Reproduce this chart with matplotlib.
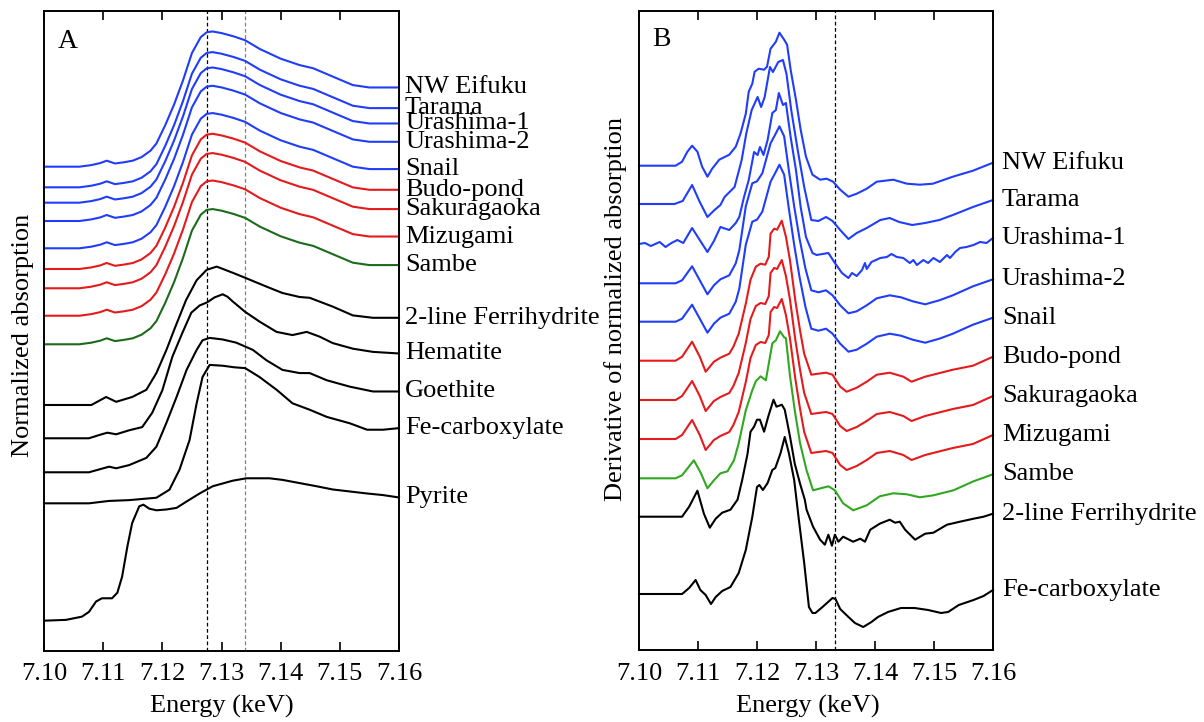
import numpy as np
import matplotlib.pyplot as plt
import matplotlib.transforms as mtransforms

plt.rcParams['font.family'] = ['Liberation Serif', 'DejaVu Serif']
plt.rcParams['font.size'] = 19

BLUE = '#1f3dfa'
RED = '#e41a1c'
GREEN_A = '#1b6b1b'
GREEN_B = '#30a820'

# ---------------- Panel A: normalized XANES (energy keV, normalized absorption) ----------------
e_sample = [7.100, 7.106, 7.108, 7.1095, 7.1106, 7.112, 7.1135, 7.115, 7.1165, 7.118, 7.119,
            7.1205, 7.122, 7.1235, 7.125, 7.1265, 7.1275, 7.1285, 7.130, 7.132, 7.134, 7.1365,
            7.140, 7.1432, 7.1455, 7.149, 7.1522, 7.155, 7.160]
mu_sample = [0.0, 0.0, 0.02, 0.045, 0.075, 0.04, 0.055, 0.075, 0.12, 0.2, 0.29,
             0.52, 0.78, 1.08, 1.42, 1.62, 1.68, 1.69, 1.67, 1.63, 1.58, 1.47,
             1.35, 1.27, 1.23, 1.12, 1.02, 0.99, 0.99]

e_ferri = [7.100, 7.108, 7.1105, 7.1122, 7.1149, 7.1173, 7.119, 7.1207, 7.122, 7.124, 7.1258,
           7.1275, 7.1292, 7.132, 7.134, 7.1376, 7.1403, 7.1432, 7.1449, 7.1488, 7.1522, 7.1556, 7.160]
mu_ferri = [0, 0, 0.10, 0.04, 0.10, 0.19, 0.40, 0.69, 0.94, 1.31, 1.56,
            1.69, 1.73, 1.65, 1.59, 1.48, 1.40, 1.35, 1.34, 1.23, 1.12, 1.09, 1.09]

e_hem = [7.100, 7.1076, 7.1093, 7.1107, 7.1122, 7.1144, 7.1166, 7.1183, 7.120, 7.1217, 7.1234,
         7.1249, 7.1263, 7.1276, 7.1288, 7.1302, 7.131, 7.1319, 7.134, 7.1364, 7.1393, 7.142,
         7.1444, 7.1466, 7.1488, 7.1522, 7.1556, 7.160]
mu_hem = [0, 0, 0.04, 0.07, 0.05, 0.10, 0.14, 0.32, 0.60, 1.02, 1.32,
          1.57, 1.66, 1.70, 1.76, 1.80, 1.77, 1.71, 1.58, 1.46, 1.33, 1.29,
          1.33, 1.27, 1.19, 1.12, 1.08, 1.06]

e_goe = [7.100, 7.1076, 7.111, 7.1122, 7.1144, 7.1173, 7.119, 7.1207, 7.1224, 7.1241, 7.1258,
         7.1268, 7.128, 7.1302, 7.1325, 7.1353, 7.1376, 7.1403, 7.1432, 7.1449, 7.1478, 7.1517,
         7.1556, 7.160]
mu_goe = [0, 0, 0.07, 0.05, 0.09, 0.18, 0.32, 0.62, 0.94, 1.28, 1.53,
          1.65, 1.68, 1.66, 1.62, 1.53, 1.40, 1.28, 1.24, 1.24, 1.15, 1.07,
          1.01, 1.01]

e_fec = [7.100, 7.1076, 7.111, 7.1144, 7.119, 7.1212, 7.1229, 7.1246, 7.1258, 7.1268, 7.128,
         7.1302, 7.1322, 7.134, 7.1364, 7.1393, 7.142, 7.1449, 7.1478, 7.1517, 7.1546, 7.1573, 7.160]
mu_fec = [0, 0, 0.03, 0.04, 0.07, 0.17, 0.42, 0.79, 1.25, 1.58, 1.73,
          1.72, 1.70, 1.69, 1.58, 1.42, 1.25, 1.17, 1.08, 1.00, 0.92, 0.92, 0.94]

e_pyr = [7.100, 7.1037, 7.1064, 7.1076, 7.1088, 7.1098, 7.1115, 7.1124, 7.1132, 7.1141, 7.1149,
         7.1161, 7.1168, 7.1178, 7.119, 7.1207, 7.1224, 7.1241, 7.1263, 7.1285, 7.1319, 7.1342,
         7.1381, 7.1403, 7.1432, 7.1461, 7.1488, 7.1546, 7.1573, 7.160]
mu_pyr = [0, 0.01, 0.05, 0.11, 0.24, 0.28, 0.28, 0.35, 0.55, 0.93, 1.22,
          1.43, 1.45, 1.40, 1.38, 1.39, 1.41, 1.49, 1.59, 1.68, 1.75, 1.78,
          1.78, 1.76, 1.72, 1.68, 1.64, 1.59, 1.57, 1.54]

names_a = ['NW Eifuku', 'Tarama', 'Urashima-1', 'Urashima-2', 'Snail', 'Budo-pond',
           'Sakuragaoka', 'Mizugami', 'Sambe', '2-line Ferrihydrite', 'Hematite',
           'Goethite', 'Fe-carboxylate', 'Pyrite']
offsets_a = [6.054, 5.796, 5.604, 5.375, 5.034, 4.775, 4.534, 4.191, 3.834,
             3.075, 2.659, 2.234, 1.846, 0.379]
colors_a = [BLUE] * 5 + [RED] * 3 + [GREEN_A] + ['black'] * 5
spectra_a = [(e_sample, mu_sample)] * 9 + [(e_ferri, mu_ferri), (e_hem, mu_hem),
                                          (e_goe, mu_goe), (e_fec, mu_fec), (e_pyr, mu_pyr)]

# ---------------- Panel B: derivative spectra ----------------
e_d_nw = [7.100, 7.1062, 7.1073, 7.1082, 7.1090, 7.1099, 7.1107, 7.1116, 7.1124, 7.1136, 7.1153,
          7.1164, 7.1172, 7.1181, 7.1186, 7.1192, 7.1196, 7.1203, 7.1212, 7.1217, 7.1223, 7.1232,
          7.1238, 7.1246, 7.1251, 7.1257, 7.1266, 7.1274, 7.1283, 7.1294, 7.1307, 7.1318, 7.1329,
          7.1341, 7.1355, 7.1369, 7.1386, 7.1403, 7.1431, 7.1454, 7.1476, 7.1498, 7.1532, 7.1566, 7.160]
d_nw = [0, 0, 0.04, 0.14, 0.20, 0.14, -0.01, -0.11, -0.03, 0.06, 0.11,
        0.19, 0.32, 0.52, 0.74, 0.82, 0.94, 0.97, 0.96, 0.99, 1.17, 1.24,
        1.33, 1.26, 1.21, 0.96, 0.66, 0.36, 0.09, -0.09, -0.14, -0.13, -0.16,
        -0.24, -0.31, -0.28, -0.23, -0.16, -0.14, -0.18, -0.19, -0.18, -0.11, -0.05, 0.03]

e_d_tar = [7.100, 7.106, 7.1074, 7.109, 7.1103, 7.1116, 7.1128, 7.1138, 7.1145, 7.1162, 7.1174,
           7.1182, 7.1191, 7.1201, 7.1207, 7.1213, 7.1222, 7.1227, 7.1236, 7.1244, 7.125, 7.1258,
           7.1269, 7.128, 7.1292, 7.1304, 7.1317, 7.1328, 7.1341, 7.1355, 7.1369, 7.1386, 7.1409,
           7.1425, 7.1441, 7.1463, 7.1485, 7.1509, 7.1532, 7.1566, 7.160]
d_tar = [0, 0, 0.03, 0.19, 0.02, -0.13, -0.06, -0.01, 0.07, 0.17, 0.44,
         0.71, 0.94, 1.07, 0.97, 1.07, 1.37, 1.32, 1.42, 1.44, 1.30, 0.94,
         0.54, 0.17, -0.16, -0.17, -0.13, -0.17, -0.26, -0.35, -0.29, -0.24, -0.16,
         -0.14, -0.18, -0.21, -0.19, -0.16, -0.11, -0.03, 0.04]

e_d_ura1 = [7.100, 7.101, 7.102, 7.1035, 7.1045, 7.1055, 7.1065, 7.1075, 7.109, 7.1104, 7.1116,
            7.1127, 7.1138, 7.1153, 7.1164, 7.117, 7.1178, 7.1186, 7.1195, 7.1201, 7.1205, 7.1211,
            7.1218, 7.1226, 7.1232, 7.1237, 7.1244, 7.1249, 7.1257, 7.1266, 7.1274, 7.1283, 7.1294,
            7.1301, 7.1321, 7.1332, 7.1344, 7.1355, 7.1361, 7.1369, 7.1378, 7.1383, 7.1386, 7.1394,
            7.1409, 7.142, 7.1428, 7.1437, 7.1448, 7.1459, 7.1465, 7.1471, 7.1482, 7.149, 7.1499,
            7.151, 7.1522, 7.1527, 7.1536, 7.1544, 7.1555, 7.1567, 7.1578, 7.1589, 7.160]
d_ura1 = [0, 0.01, -0.02, 0.02, -0.03, 0.01, 0.04, 0.01, 0.16, 0.03, -0.08,
          0.03, 0.17, 0.14, 0.21, 0.27, 0.47, 0.64, 0.92, 0.89, 0.97, 0.89,
          1.04, 1.31, 1.34, 1.51, 1.39, 1.41, 1.07, 0.74, 0.37, 0.07, -0.09,
          -0.11, -0.09, -0.19, -0.29, -0.34, -0.29, -0.32, -0.26, -0.19, -0.25, -0.18,
          -0.14, -0.13, -0.10, -0.13, -0.14, -0.19, -0.16, -0.21, -0.16, -0.19, -0.14,
          -0.18, -0.11, -0.14, -0.08, -0.04, -0.03, -0.01, 0.02, 0.01, 0.06]

e_d_ura2 = [7.100, 7.1062, 7.1073, 7.109, 7.1103, 7.1116, 7.1127, 7.1138, 7.1153, 7.1164, 7.117,
            7.1181, 7.1192, 7.120, 7.1209, 7.1223, 7.1232, 7.1238, 7.1246, 7.1254, 7.1263, 7.1272,
            7.1282, 7.1292, 7.1304, 7.1317, 7.1328, 7.1341, 7.1355, 7.1369, 7.1386, 7.1403, 7.1425,
            7.1444, 7.1464, 7.1485, 7.1509, 7.1532, 7.1566, 7.160]
d_ura2 = [0, 0, 0.03, 0.17, 0.03, -0.11, -0.02, 0.04, 0.08, 0.20, 0.33,
          0.77, 1.00, 1.02, 1.10, 1.40, 1.50, 1.57, 1.47, 1.13, 0.77, 0.45,
          0.15, -0.07, -0.09, -0.07, -0.12, -0.22, -0.30, -0.28, -0.22, -0.15, -0.12,
          -0.14, -0.18, -0.21, -0.17, -0.12, -0.03, 0.04]

e_d_red = [7.100, 7.1062, 7.1073, 7.109, 7.1103, 7.1113, 7.1127, 7.1138, 7.1153, 7.116, 7.1169,
           7.1181, 7.1189, 7.1198, 7.1206, 7.1214, 7.122, 7.1223, 7.1229, 7.1234, 7.1242, 7.1249,
           7.1256, 7.1265, 7.1273, 7.128, 7.1292, 7.1304, 7.1317, 7.1328, 7.1341, 7.1352, 7.1369,
           7.1386, 7.1403, 7.1425, 7.1448, 7.1462, 7.1485, 7.1532, 7.1566, 7.160]
d_red = [0, 0, 0.04, 0.19, 0.04, -0.11, -0.01, 0.03, 0.07, 0.14, 0.27,
         0.57, 0.81, 0.94, 0.97, 0.96, 1.04, 1.27, 1.32, 1.31, 1.40, 1.24,
         1.0, 0.6, 0.3, 0.07, -0.14, -0.13, -0.12, -0.14, -0.26, -0.31, -0.27,
         -0.21, -0.14, -0.12, -0.16, -0.21, -0.16, -0.09, -0.05, 0.04]

e_d_sam = [7.100, 7.1062, 7.1073, 7.1093, 7.1105, 7.1116, 7.1127, 7.1138, 7.115, 7.1161, 7.1169,
           7.1181, 7.1192, 7.1198, 7.1206, 7.1215, 7.1226, 7.1232, 7.1239, 7.1246, 7.1249, 7.1256,
           7.1264, 7.1273, 7.1284, 7.1295, 7.1321, 7.1332, 7.1346, 7.1363, 7.1386, 7.1408, 7.1431,
           7.1454, 7.1476, 7.1499, 7.1533, 7.1567, 7.160]
d_sam = [0, 0, 0.03, 0.18, 0.05, -0.10, -0.02, 0.05, 0.07, 0.18, 0.35,
         0.68, 0.88, 0.97, 1.02, 0.98, 1.35, 1.38, 1.47, 1.41, 1.40, 1.02,
         0.68, 0.35, 0.08, -0.12, -0.08, -0.12, -0.25, -0.32, -0.27, -0.18, -0.15,
         -0.16, -0.19, -0.17, -0.12, -0.03, 0.04]

e_d_ferri = [7.100, 7.1073, 7.1085, 7.1099, 7.111, 7.112, 7.113, 7.1141, 7.1155, 7.1167, 7.1175,
             7.1184, 7.1189, 7.1195, 7.12, 7.1205, 7.1212, 7.1219, 7.1228, 7.1233, 7.1242, 7.1247,
             7.1256, 7.1264, 7.1273, 7.1281, 7.1284, 7.1295, 7.1307, 7.1315, 7.1321, 7.1327, 7.1332,
             7.1338, 7.1346, 7.1363, 7.1375, 7.1383, 7.1392, 7.1408, 7.1425, 7.1434, 7.1442, 7.1451,
             7.1468, 7.1485, 7.1499, 7.1522, 7.1544, 7.1567, 7.1584, 7.160]
d_ferri = [0, 0, 0.10, 0.26, 0.03, -0.11, -0.02, 0.04, 0.07, 0.17, 0.37,
           0.63, 0.85, 0.90, 0.97, 0.97, 0.85, 1.0, 1.17, 1.10, 1.12, 1.07,
           0.80, 0.53, 0.33, 0.17, 0.07, -0.10, -0.23, -0.28, -0.18, -0.29, -0.18,
           -0.25, -0.20, -0.25, -0.22, -0.25, -0.13, -0.07, -0.03, -0.06, -0.05, -0.13,
           -0.23, -0.17, -0.16, -0.08, -0.05, -0.02, 0.0, 0.03]

e_d_fec = [7.100, 7.1073, 7.1085, 7.1096, 7.1104, 7.1113, 7.1122, 7.113, 7.1141, 7.1155, 7.1169,
           7.1181, 7.1192, 7.12, 7.1204, 7.121, 7.1218, 7.1226, 7.1231, 7.124, 7.1247, 7.1254,
           7.1263, 7.1271, 7.128, 7.1288, 7.1294, 7.1299, 7.1311, 7.1328, 7.1333, 7.1341, 7.1355,
           7.1366, 7.138, 7.1394, 7.1405, 7.1422, 7.1444, 7.1467, 7.149, 7.1512, 7.1524, 7.1542,
           7.1567, 7.1584, 7.160]
d_fec = [0, 0, 0.06, 0.14, 0.04, -0.01, -0.10, -0.03, 0.03, 0.07, 0.21,
         0.44, 0.77, 1.07, 1.09, 1.04, 1.11, 1.24, 1.26, 1.41, 1.57, 1.41,
         1.14, 0.74, 0.31, -0.13, -0.19, -0.19, -0.13, -0.04, -0.05, -0.15, -0.23,
         -0.29, -0.33, -0.28, -0.23, -0.18, -0.14, -0.14, -0.16, -0.19, -0.18, -0.11,
         -0.06, -0.02, 0.04]

names_b = ['NW Eifuku', 'Tarama', 'Urashima-1', 'Urashima-2', 'Snail', 'Budo-pond',
           'Sakuragaoka', 'Mizugami', 'Sambe', '2-line Ferrihydrite', 'Fe-carboxylate']
offsets_b = [4.843, 4.46, 4.06, 3.667, 3.283, 2.893, 2.50, 2.11, 1.717, 1.333, 0.56]
colors_b = [BLUE] * 5 + [RED] * 3 + [GREEN_B] + ['black'] * 2
spectra_b = [(e_d_nw, d_nw), (e_d_tar, d_tar), (e_d_ura1, d_ura1), (e_d_ura2, d_ura2),
             (e_d_ura2, d_ura2), (e_d_red, d_red), (e_d_red, d_red), (e_d_red, d_red),
             (e_d_sam, d_sam), (e_d_ferri, d_ferri), (e_d_fec, d_fec)]

xticks = [7.10, 7.11, 7.12, 7.13, 7.14, 7.15, 7.16]


def style_axes(ax, ylim):
    ax.set_xlim(7.10, 7.16)
    ax.set_ylim(*ylim)
    ax.set_xticks(xticks)
    ax.set_xticklabels([f'{t:.2f}' for t in xticks])
    ax.set_yticks([])
    ax.tick_params(axis='x', direction='in', top=True, length=6.5, width=1.2, pad=9)
    for sp in ax.spines.values():
        sp.set_linewidth(1.4)


def draw_panel(ax, names, offsets, colors, spectra, label_dx):
    trans = mtransforms.blended_transform_factory(ax.transAxes, ax.transData)
    for name, off, col, (e, v) in zip(names, offsets, colors, spectra):
        y = np.array(v) + off
        ax.plot(e, y, color=col, lw=1.5, clip_on=False)
        ax.text(1 + label_dx, y[-1], name, transform=trans, ha='left', va='center')


fig = plt.figure(figsize=(12.04, 7.22), dpi=100)
ax_a = fig.add_axes([44 / 1204, 71 / 722, 355 / 1204, 640 / 722])
ax_b = fig.add_axes([639 / 1204, 72 / 722, 354 / 1204, 639 / 722])

style_axes(ax_a, (0, 8.0))
style_axes(ax_b, (0, 6.39))

ax_a.axvline(7.1275, color='black', ls=(0, (3, 2)), lw=0.9)
ax_a.axvline(7.134, color='#808080', ls=(0, (3, 2)), lw=0.9)
ax_b.axvline(7.1332, color='black', ls=(0, (3, 2)), lw=0.9)

draw_panel(ax_a, names_a, offsets_a, colors_a, spectra_a, 0.017)
draw_panel(ax_b, names_b, offsets_b, colors_b, spectra_b, 0.025)

ax_a.text(0.038, 0.953, 'A', transform=ax_a.transAxes, va='center', ha='left', fontsize=20)
ax_b.text(0.038, 0.955, 'B', transform=ax_b.transAxes, va='center', ha='left', fontsize=20)

fig.text(23 / 1204, 1 - 335 / 722, 'Normalized absorption', rotation=90, ha='center', va='center')
fig.text(616 / 1204, 1 - 309 / 722, 'Derivative of normalized absorption', rotation=90,
         ha='center', va='center')
fig.text(222 / 1204, 1 - 706 / 722, 'Energy (keV)', ha='center', va='center')
fig.text(808 / 1204, 1 - 706 / 722, 'Energy (keV)', ha='center', va='center')

fig.savefig('out.png', dpi=100)
